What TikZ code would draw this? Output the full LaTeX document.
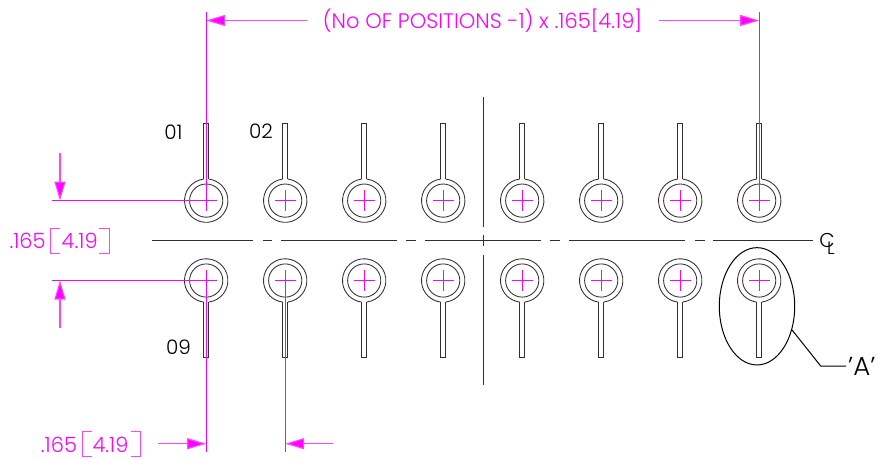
\documentclass[tikz,border=0pt]{standalone}
\usepackage{fontspec}
\setmainfont{Poppins Light}
\usetikzlibrary{arrows.meta,shapes.geometric}
\definecolor{dimmag}{HTML}{FF00FF}
\definecolor{dimlite}{HTML}{FF44FF}
\definecolor{pen}{HTML}{303030}
\tikzset{
  x=1pt,y=-1pt,
  pen line/.style={draw=pen,line width=0.85pt},
  ext line/.style={draw=dimmag,line width=0.9pt},
  cross line/.style={draw=dimmag,line width=0.8pt},
  dim line/.style={draw=dimlite,line width=1.2pt,-{Triangle[length=19pt,width=11pt,fill=dimmag]}},
  brk/.style={draw=dimlite,line width=1pt},
  mtext/.style={text=dimmag,inner sep=0pt,font=\fontsize{21}{21}\selectfont},
  ktext/.style={text=black,inner sep=0pt,font=\fontsize{20}{20}\selectfont},
}
\begin{document}
\begin{tikzpicture}
\useasboundingbox (0,0) rectangle (877,459);
\fill[white] (0,0) rectangle (877,459);
% pins
\foreach \px in {206.2,285.2,364.2,443.2,522.2,601.2,680.2,759.2}{
  \begin{scope}[shift={(\px,200.6)}]
    \draw[pen line] (-2.7,-21.5) -- (-2.7,-77) -- (2.7,-77) -- (2.7,-21.5);
    \draw[pen line] (-2.7,-21.5) arc[start angle=-97.2,end angle=-442.8,radius=21.7];
    \draw[pen line] (0,0) circle[radius=16.6];
    \draw[cross line] (-10.3,0) -- (10.3,0) (0,-10.3) -- (0,10.3);
  \end{scope}
  \begin{scope}[shift={(\px,280.5)}]
    \draw[pen line] (-2.7,21.5) -- (-2.7,76.5) -- (2.7,76.5) -- (2.7,21.5);
    \draw[pen line] (2.7,21.5) arc[start angle=82.8,end angle=-262.8,radius=21.7];
    \draw[pen line] (0,0) circle[radius=16.6];
    \draw[cross line] (-10.3,0) -- (10.3,0) (0,-10.3) -- (0,10.3);
  \end{scope}
}
% centre lines
\draw[pen line] (152,240.5) -- (253,240.5) (263,240.5) -- (272,240.5) (281,240.5) -- (396.5,240.5)
  (406,240.5) -- (416,240.5) (425,240.5) -- (540.5,240.5) (549.5,240.5) -- (560,240.5)
  (569,240.5) -- (685,240.5) (695,240.5) -- (705,240.5) (713,240.5) -- (813,240.5);
\draw[pen line] (483,97) -- (483,227) (483,235) -- (483,246) (483,255) -- (483,385);
% centre line symbol
\node[ktext] (clc) at (827,240) {C};
\node[ktext,font=\fontsize{18}{18}\selectfont] (cll) at (831,248) {L};
% pin labels
\node[ktext] (p01) at (173.5,132.5) {01};
\node[ktext] (p02) at (261,131.5) {02};
\node[ktext] (p09) at (178.5,347.5) {09};
% detail bubble and leader
\node[draw=black,line width=1pt,ellipse,minimum width=75.4pt,minimum height=117.3pt,inner sep=0pt] (bubble) at (757,306.3) {};
\node[ktext,anchor=west,font=\fontsize{26}{26}\selectfont] (detail) at (848,366.5) {'A'};
\coordinate (knee) at (820.7,366);
\coordinate (lead) at (846,366);
\draw[draw=black,line width=1pt] (bubble.-34) -- (knee) -- (lead);
% extension lines
\coordinate (extA) at (206.2,12.4);
\coordinate (extB) at (759.2,12.4);
\draw[ext line] (extA) -- (206.2,211) (extB) -- (759.2,211);
\draw[ext line] (52,200.6) -- (216.5,200.6) (52,280.5) -- (216.5,280.5);
\draw[ext line] (206.2,270.2) -- (206.2,451.7) (285.2,270.2) -- (285.2,451.7);
% dimension: overall
\node[mtext] (overall) at (482.5,21) {(No OF POSITIONS -1) x .165[4.19]};
\coordinate (oL) at (206.2,20.5);
\coordinate (oR) at (759.2,20.5);
\draw[dim line] (306.7,20.5) -- (oL);
\draw[dim line] (658.6,20.5) -- (oR);
% dimension: row spacing
\node[mtext,anchor=west] (rowa) at (9.3,241.2) {.165};
\node[mtext] (rowb) at (79.7,241.2) {4.19};
\draw[brk] (60,228.5) -- (50.5,228.5) -- (50.5,253) -- (60,253);
\draw[brk] (99,228.5) -- (109,228.5) -- (109,253) -- (99,253);
\draw[dim line] (60,153.3) -- (60,200.6);
\draw[dim line] (60,328.3) -- (60,280.5);
% dimension: pitch
\node[mtext,anchor=west] (pita) at (40.7,445.2) {.165};
\node[mtext] (pitb) at (110.5,445.2) {4.19};
\draw[brk] (91.5,431.5) -- (82,431.5) -- (82,456.5) -- (91.5,456.5);
\draw[brk] (130.5,431.5) -- (140.5,431.5) -- (140.5,456.5) -- (130.5,456.5);
\draw[dim line] (158,443.7) -- (206.2,443.7);
\draw[dim line] (333,443.7) -- (285.2,443.7);
\end{tikzpicture}
\end{document}
